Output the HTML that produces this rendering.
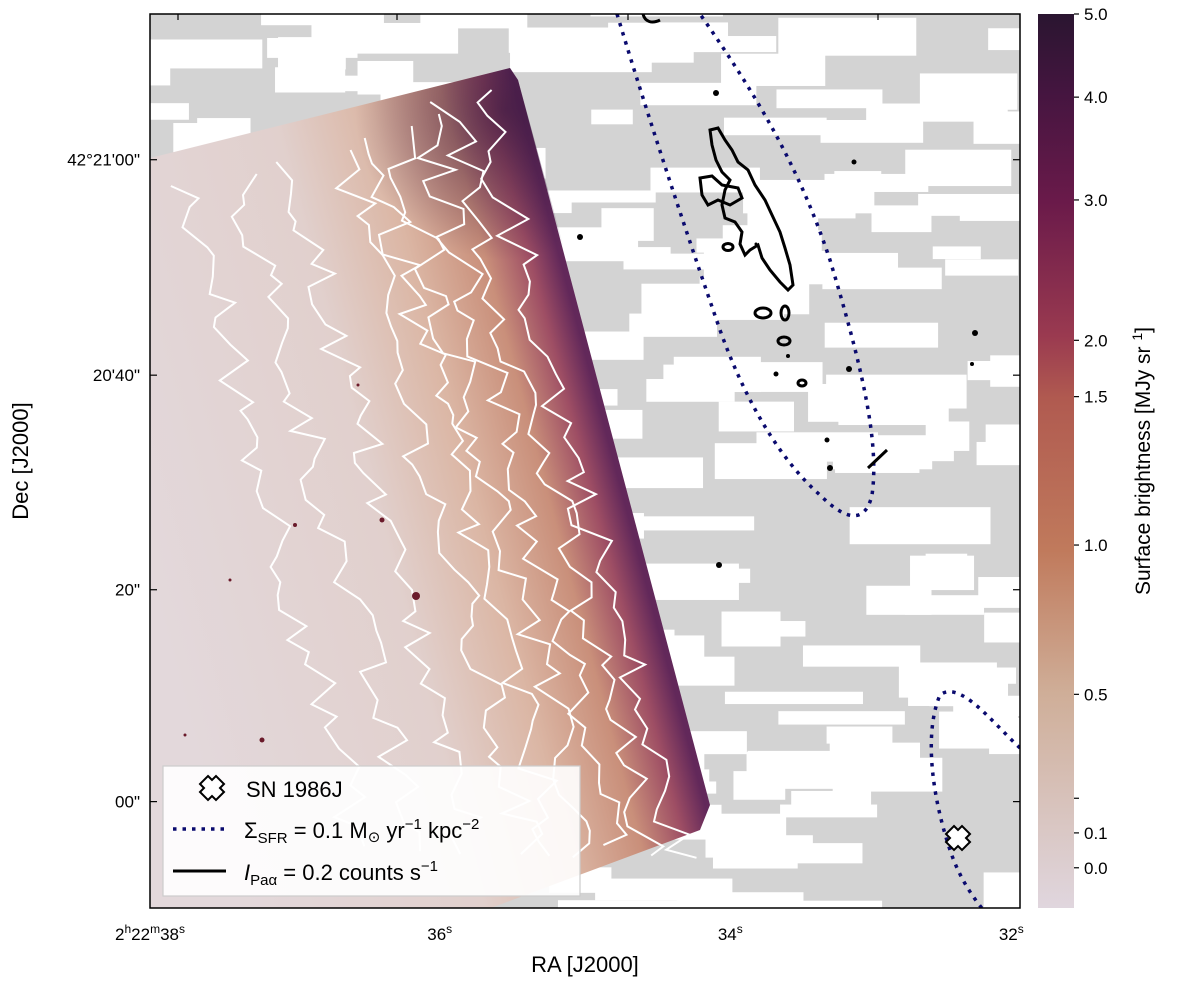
<!DOCTYPE html>
<html><head><meta charset="utf-8"><style>
html,body{margin:0;padding:0;background:#fff}
svg{display:block;font-family:"Liberation Sans","DejaVu Sans",sans-serif}
</style></head><body>
<svg id="fig" width="1200" height="990" viewBox="0 0 1200 990">
<defs>
<clipPath id="plotclip"><rect x="150" y="14" width="870" height="894"/></clipPath>
<linearGradient id="imgGrad" gradientUnits="userSpaceOnUse" x1="160" y1="623" x2="624" y2="500">
<stop offset="0" stop-color="#e3d8db"/><stop offset="0.5" stop-color="#e1d0cd"/>
<stop offset="0.7" stop-color="#dbb6a4"/><stop offset="0.85" stop-color="#c98f7a"/>
<stop offset="0.94" stop-color="#9e4e64"/><stop offset="1" stop-color="#62285a"/>
</linearGradient>
<radialGradient id="topDark" gradientUnits="userSpaceOnUse" cx="505" cy="110" r="150">
<stop offset="0" stop-color="#3a1840" stop-opacity="0.7"/><stop offset="1" stop-color="#3a1840" stop-opacity="0"/>
</radialGradient>
<linearGradient id="cbGrad" x1="0" y1="1" x2="0" y2="0">
<stop offset="0" stop-color="#e0d6de"/><stop offset="0.24" stop-color="#cfae98"/>
<stop offset="0.40" stop-color="#c07a5c"/><stop offset="0.57" stop-color="#b05a50"/>
<stop offset="0.64" stop-color="#9a3a50"/><stop offset="0.79" stop-color="#6a1a4a"/>
<stop offset="0.91" stop-color="#451540"/><stop offset="1" stop-color="#2a1530"/>
</linearGradient>
</defs>
<g clip-path="url(#plotclip)">
<rect x="150" y="14" width="870" height="894" fill="#d3d3d3"/>
<g id="texture"></g>
<polygon points="150,158 510,68 518,80 710,805 700,830 480,912 150,912" fill="url(#imgGrad)"/>
<polygon points="150,158 510,68 518,80 600,380 150,300" fill="url(#topDark)"/>
<g id="whiteContours" fill="none" stroke="#fff" stroke-width="2"></g>
<g id="stars"></g>
<path d="M617,14 C640,90 675,200 720,330 C745,400 780,460 820,495 C845,520 865,525 872,495 C880,440 860,360 830,260 C800,170 760,100 700,14" fill="none" stroke="#0a0a6e" stroke-width="3.5" stroke-dasharray="3.5,6"/>
<path d="M1020,748 C990,720 960,680 940,695 C925,730 930,790 950,850 C960,880 975,900 985,912" fill="none" stroke="#0a0a6e" stroke-width="3.5" stroke-dasharray="3.5,6"/>
<g fill="none" stroke="#000" stroke-width="3">
<path d="M710,130 L718,128 L725,140 L732,150 L738,162 L748,170 L755,185 L765,200 L772,215 L780,232 L785,248 L790,265 L793,285 L788,290 L780,282 L770,270 L762,258 L758,245 L750,250 L745,255 L740,244 L742,232 L735,222 L725,218 L722,205 L725,190 L730,180 L722,172 L716,160 L712,145 Z"/>
<path d="M700,178 L712,176 L722,185 L738,188 L742,198 L730,205 L718,200 L708,205 L702,195 Z"/>
<ellipse cx="728" cy="247" rx="5" ry="3.5"/><ellipse cx="785" cy="313" rx="4" ry="7"/>
<ellipse cx="763" cy="313" rx="8" ry="5"/><ellipse cx="784" cy="341" rx="6" ry="4"/>
<ellipse cx="802" cy="383" rx="4" ry="3"/><path d="M868,468 L887,450"/>
<path d="M643,14 C645,22 652,24 660,20"/>
</g>
<g id="blackDots"></g>
<g transform="translate(958,838)">
<path d="M-4,-12 L0,-8 L4,-12 L12,-4 L8,0 L12,4 L4,12 L0,8 L-4,12 L-12,4 L-8,0 L-12,-4 Z" fill="#fff" stroke="#000" stroke-width="2"/>
</g>
</g>
<rect x="150" y="14" width="870" height="894" fill="none" stroke="#000" stroke-width="1.5"/>
<g id="axes"></g>
<g>
<rect x="163" y="766" width="417" height="130" fill="#fff" fill-opacity="0.9" stroke="#ccc" stroke-width="1.2"/>
<g transform="translate(212,788)"><path d="M-4,-12 L0,-8 L4,-12 L12,-4 L8,0 L12,4 L4,12 L0,8 L-4,12 L-12,4 L-8,0 L-12,-4 Z" fill="#fff" stroke="#000" stroke-width="2"/></g>
<text x="246" y="797" font-size="22">SN 1986J</text>
<line x1="173" y1="829" x2="226" y2="829" stroke="#0a0a6e" stroke-width="3.5" stroke-dasharray="3.5,6"/>
<text x="244" y="838" font-size="22">Σ<tspan font-size="15" dy="5">SFR</tspan><tspan dy="-5"> = 0.1 M</tspan><tspan font-size="15" dy="4">⊙</tspan><tspan dy="-4">  yr</tspan><tspan font-size="15" dy="-9">−1</tspan><tspan dy="9"> kpc</tspan><tspan font-size="15" dy="-9">−2</tspan></text>
<line x1="173" y1="871" x2="226" y2="871" stroke="#000" stroke-width="3"/>
<text x="244" y="880" font-size="22"><tspan font-style="italic">I</tspan><tspan font-size="15" dy="5">Paα</tspan><tspan dy="-5"> = 0.2 counts s</tspan><tspan font-size="15" dy="-9">−1</tspan></text>
</g>
<rect x="1038" y="14" width="36" height="894" fill="url(#cbGrad)"/>
<g id="cbAxis"></g>
<text transform="translate(1150,461) rotate(-90)" text-anchor="middle" font-size="21">Surface brightness [MJy sr <tspan font-size="14" dy="-8">1</tspan><tspan dy="8">]</tspan></text>
<text x="585" y="972" text-anchor="middle" font-size="22">RA [J2000]</text>
<text transform="translate(28,461) rotate(-90)" text-anchor="middle" font-size="22">Dec [J2000]</text>
</svg>
<script>
const cbTickValues = [0.0, 0.1, 0.5, 1.0, 1.5, 2.0, 3.0, 4.0, 5.0];
const cbTickLabels = ["0.0","0.1","0.5","1.0","1.5","2.0","3.0","4.0","5.0"];
const normAnchorValues = [-0.1, 0.0, 0.1, 0.5, 1.0, 1.5, 2.0, 3.0, 4.0, 5.0];
const normAnchorFractions = [0, 0.045, 0.084, 0.239, 0.406, 0.572, 0.635, 0.792, 0.907, 1.0];
const raTickLabels = ["38", "36", "34", "32"];
const raTickFractions = [0, 0.333, 0.667, 0.99];
const decTickLabels = ["42°21'00\"", "20'40\"", "20\"", "00\""];
const decTickFractions = [0.163, 0.404, 0.644, 0.881];

const NS = "http://www.w3.org/2000/svg";
function mk(tag, attrs, parent){const e=document.createElementNS(NS,tag);for(const k in attrs)e.setAttribute(k,attrs[k]);parent.appendChild(e);return e;}
function cbY(v){
  let i=0; while(i<normAnchorValues.length-2 && v>normAnchorValues[i+1]) i++;
  const t=(v-normAnchorValues[i])/(normAnchorValues[i+1]-normAnchorValues[i]);
  const f=normAnchorFractions[i]+t*(normAnchorFractions[i+1]-normAnchorFractions[i]);
  return 908-f*894;
}
const xOf = f => 150 + f*870;
const yOf = f => 14 + f*894;

const cb=document.getElementById('cbAxis');
cbTickValues.forEach((v,i)=>{
  const y=cbY(v);
  const l=mk('line',{x1:1074,x2:1079,y1:y,y2:y,stroke:'#000','stroke-width':1.2},cb);
  
  
  const t=mk('text',{x:1084,y:y+6,'font-size':17},cb);
  t.textContent=cbTickLabels[i];
  
  
});
{const y=cbY(0.2);const l=mk('line',{x1:1074,x2:1079,y1:y,y2:y,stroke:'#000','stroke-width':1.2},cb);

}

const ax=document.getElementById('axes');
raTickLabels.forEach((lab,i)=>{
  const x=xOf(raTickFractions[i]);
  const t=mk('text',{x:x,y:940,'font-size':17,'text-anchor':'middle'},ax);
  if(i===0){t.innerHTML='2<tspan font-size="12" dy="-7">h</tspan><tspan dy="7">22</tspan><tspan font-size="12" dy="-7">m</tspan><tspan dy="7">'+lab+'</tspan><tspan font-size="12" dy="-7">s</tspan>';}
  else{t.innerHTML=lab+'<tspan font-size="12" dy="-7">s</tspan>';}
  
  
});
[178,397,628,878].forEach(x=>{
  const l=mk('line',{x1:x,x2:x,y1:14,y2:20,stroke:'#000','stroke-width':1.2},ax);
  
  
});
decTickLabels.forEach((lab,i)=>{
  const y=yOf(decTickFractions[i]);
  const t=mk('text',{x:140,y:y+6,'font-size':17,'text-anchor':'end'},ax);
  t.textContent=lab;
  
  
  const l=mk('line',{x1:150,x2:157,y1:y,y2:y,stroke:'#000','stroke-width':1.2},ax);
  
  
  const r=mk('line',{x1:1013,x2:1020,y1:y,y2:y,stroke:'#000','stroke-width':1.2},ax);
  
  
});

let seed=12345;function rnd(){seed=(seed*1103515245+12345)%2147483648;return seed/2147483648;}
const tex=document.getElementById('texture');
for(let i=0;i<230;i++){
  const x=150+rnd()*900-40, y=14+rnd()*910-15, w=40+rnd()*110, h=12+rnd()*26;
  const r=mk('rect',{x:x,y:y,width:w,height:h,fill:'#fff'},tex);
  
  
}
const wc=document.getElementById('whiteContours');
for(let k=0;k<9;k++){
  const off=40+k*30;
  let d='';let y=90+k*12;
  while(y<860){
    const xe=510+(y-68)*0.265-off-(k>5?(k-5)*25:0);
    const x=xe+(rnd()-0.5)*40;
    d+=(d?'L':'M')+x.toFixed(1)+','+y.toFixed(1)+' ';
    y+=8+rnd()*14;
  }
  const p=mk('path',{d:d},wc);
  
  
}
const st=document.getElementById('stars');
[[416,596,4],[382,520,2.5],[295,525,2],[262,740,2.5],[358,385,1.5],[185,735,1.5],[230,580,1.5]].forEach(s=>{
  const c=mk('circle',{cx:s[0],cy:s[1],r:s[2],fill:'#6a1a2a'},st);
  
  
});
const bd=document.getElementById('blackDots');
[[716,93,3],[580,237,3],[854,162,2.5],[975,333,3],[849,369,3],[719,565,3],[827,440,2.5],[830,468,3],[972,364,2],[788,356,2],[776,374,2.5],[756,244,1.5]].forEach(s=>{
  const c=mk('circle',{cx:s[0],cy:s[1],r:s[2],fill:'#000'},bd);
  
  
});
</script>
</body></html>
